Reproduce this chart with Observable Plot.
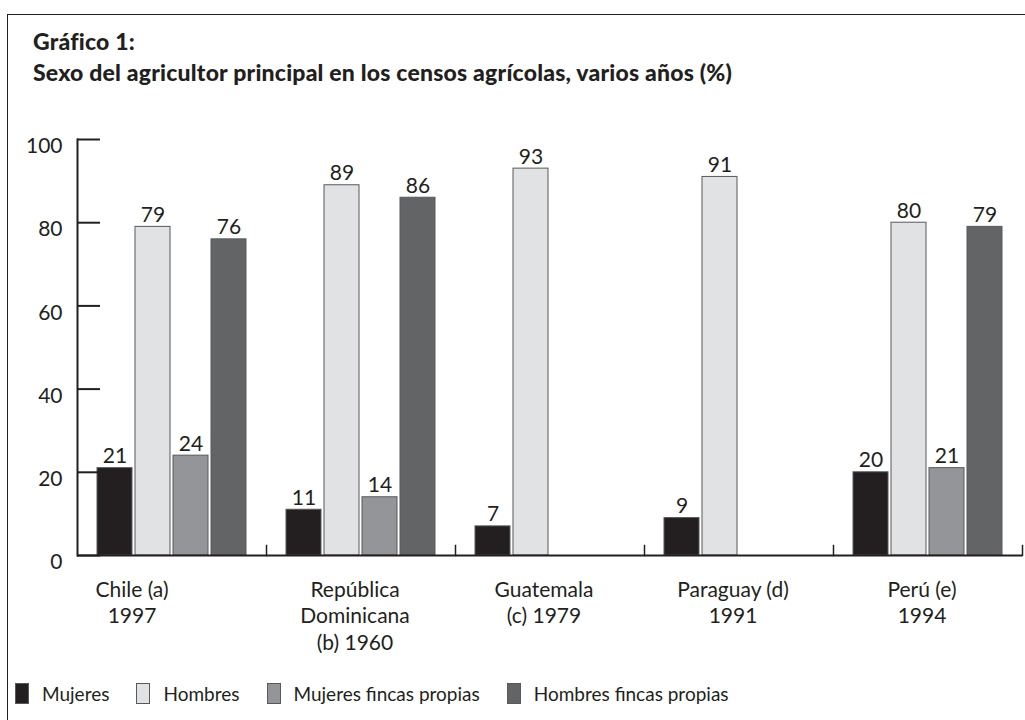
<!DOCTYPE html>
<html><head><meta charset="utf-8">
<script src="https://cdn.jsdelivr.net/npm/d3@7"></script>
<script src="https://cdn.jsdelivr.net/npm/@observablehq/plot@0.6"></script>
<style>
body{margin:0;background:#fff;font-family:Lato,sans-serif;color:#231f20;}
#page{position:relative;width:1025px;height:720px;overflow:hidden;background:#fff;}
#border{position:absolute;left:7px;top:14px;width:1100px;height:800px;border-left:1.5px solid #231f20;border-top:1.5px solid #231f20;}
#title{position:absolute;left:33px;top:26px;font-weight:900;font-size:23px;line-height:31px;white-space:nowrap;letter-spacing:0.2px;}
#chart{position:absolute;left:0;top:109px;}
#legend{position:absolute;left:15px;top:683px;display:flex;align-items:center;font-size:19px;line-height:20px;}
#legend .sw{width:12px;height:19px;border:1px solid #58595b;margin-right:13px;box-sizing:content-box;}
#legend .lb{margin-right:27px;}
</style></head>
<body>
<div id="page">
  <div id="border"></div>
  <div id="title">Gráfico 1:<br>Sexo del agricultor principal en los censos agrícolas, varios años (%)</div>
  <div id="chart"></div>
  <div id="legend"></div>
</div>
<script>
const categories = ["Chile (a) 1997", "República Dominicana (b) 1960", "Guatemala (c) 1979", "Paraguay (d) 1991", "Perú (e) 1994"];
const categoryLabels = ["Chile (a)\n1997", "República\nDominicana\n(b) 1960", "Guatemala\n(c) 1979", "Paraguay (d)\n1991", "Perú (e)\n1994"];
const series = ["Mujeres", "Hombres", "Mujeres fincas propias", "Hombres fincas propias"];
const mujeres = [21, 11, 7, 9, 20];
const hombres = [79, 89, 93, 91, 80];
const mujeresFincas = [24, 14, null, null, 21];
const hombresFincas = [76, 86, null, null, 79];
const colors = ["#231f20", "#e1e2e4", "#939598", "#636466"];
const yTicks = [0, 20, 40, 60, 80, 100];

const seriesValues = [mujeres, hombres, mujeresFincas, hombresFincas];
const rows = [];
categories.forEach((c, i) => seriesValues.forEach((vals, j) => {
  if (vals[i] != null) rows.push({category: c, series: series[j], value: vals[i]});
}));

const ink = "#231f20";
const chart = Plot.plot({
  width: 1025, height: 551,
  marginLeft: 77, marginRight: 3, marginTop: 30, marginBottom: 105,
  fx: {domain: categories, padding: 0, axis: null},
  x: {domain: series, paddingInner: 0.08, paddingOuter: 0.52, axis: null},
  y: {domain: [0, 100], axis: null},
  color: {domain: series, range: colors},
  style: {fontFamily: "Lato, sans-serif", fontSize: "21px", color: ink, background: "transparent", overflow: "visible"},
  marks: [
    Plot.barY(rows, {fx: "category", x: "series", y: "value", fill: "series", stroke: "#58595b", strokeWidth: 1}),
    Plot.text(rows, {fx: "category", x: "series", y: "value", text: d => String(d.value), lineAnchor: "bottom", dy: -5, fontSize: 21, fill: ink}),
    Plot.ruleY([0], {stroke: ink, strokeWidth: 2}),
    Plot.frame({anchor: "right", insetTop: 406, stroke: ink, strokeWidth: 1.5}),
    Plot.frame({anchor: "left", facetAnchor: "left", stroke: ink, strokeWidth: 2}),
    Plot.axisY({ticks: yTicks, tickSize: 0, tickPadding: 15, dy: 7, fontSize: 21, fill: ink, label: null}),
    Plot.axisY({ticks: yTicks, tickSize: 23, dx: 23, tickFormat: () => "", stroke: ink, strokeWidth: 2, label: null}),
    Plot.text(categories.slice(0, 1), {fx: d => d, text: d => categoryLabels[categories.indexOf(d)], frameAnchor: "bottom", lineAnchor: "top", dy: 23, dx: -40, lineHeight: 1.25, fontSize: 21, fill: ink}),
    Plot.text(categories.slice(1), {fx: d => d, text: d => categoryLabels[categories.indexOf(d)], frameAnchor: "bottom", lineAnchor: "top", dy: 23, dx: -6, lineHeight: 1.25, fontSize: 21, fill: ink})
  ]
});
document.getElementById("chart").appendChild(chart);

const legend = d3.select("#legend");
series.forEach((s, i) => {
  legend.append("div").attr("class", "sw").style("background", colors[i]);
  legend.append("div").attr("class", "lb").text(s);
});
</script>
</body></html>
